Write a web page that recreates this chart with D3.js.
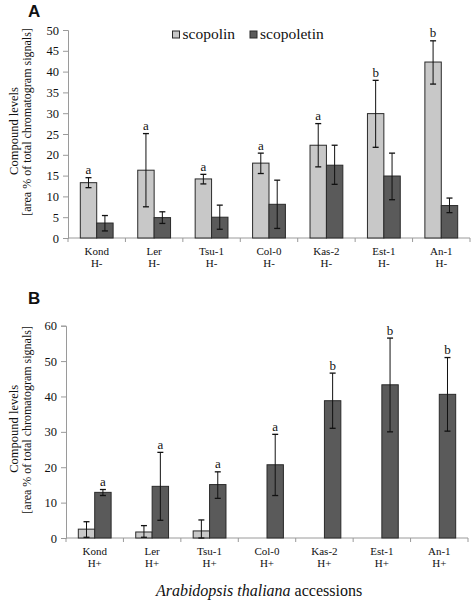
<!DOCTYPE html>
<html><head><meta charset="utf-8">
<script src="https://cdn.jsdelivr.net/npm/d3@7"></script>
<style>
html,body{margin:0;padding:0;background:#fff;}
svg{display:block;}
svg text{font-family:"Liberation Serif","Times New Roman",serif !important;fill:#111 !important;}
svg text.sans{font-family:"Liberation Sans",Arial,sans-serif !important;}
</style></head>
<body>
<svg id="chart" width="472" height="602"></svg>
<script>
// ---------- data ----------
const categories = ["Kond","Ler","Tsu-1","Col-0","Kas-2","Est-1","An-1"];
const seriesNames = ["scopolin","scopoletin"];
const conditionA = "H-";
const conditionB = "H+";
const yTicksA = [0,5,10,15,20,25,30,35,40,45,50];
const yTicksB = [0,10,20,30,40,50,60];

const scopolinA    = [13.3,16.3,14.2,18.0,22.3,29.9,42.3];
const scopolinA_lo = [12.1, 7.5,13.0,15.5,17.1,21.8,37.0];
const scopolinA_hi = [14.5,25.1,15.3,20.4,27.5,37.9,47.4];
const scopoletinA    = [3.6,4.9,5.0, 8.1,17.5,14.9,7.8];
const scopoletinA_lo = [1.7,3.5,2.1, 2.3,12.9, 9.2,6.1];
const scopoletinA_hi = [5.4,6.3,7.9,13.9,22.3,20.4,9.6];
const lettersA = ["a","a","a","a","a","b","b"];

const scopolinB    = [2.5,1.7,2.0,null,null,null,null];
const scopolinB_lo = [0.2,0.2,0.0,null,null,null,null];
const scopolinB_hi = [4.6,3.5,5.1,null,null,null,null];
const scopoletinB    = [12.9,14.6,15.1,20.7,38.8,43.3,40.6];
const scopoletinB_lo = [12.0, 5.0,11.2,12.0,31.0,30.0,30.2];
const scopoletinB_hi = [13.7,24.2,18.7,29.3,46.6,56.5,51.0];
const lettersB = ["a","a","a","a","b","b","b"];

const colors = {scopolin:"#c8c8c8", scopoletin:"#5a5a5a"};

// ---------- drawing ----------
const svg = d3.select("#chart");

function panel(opts){
  const {left,right,top,bottom,ymax,ticks,cond,s1,s1lo,s1hi,s2,s2lo,s2hi,letters,letterOn,label,labelY} = opts;
  const g = svg.append("g");
  const x0 = d3.scaleBand().domain(categories).range([left,right]).padding(0);
  const x1 = d3.scaleBand().domain(seriesNames).range([0,x0.bandwidth()]).paddingInner(0).paddingOuter(0.75);
  const y = d3.scaleLinear().domain([0,ymax]).range([bottom,top]);

  // y axis
  const ya = g.append("g").attr("transform",`translate(${left},0)`)
    .call(d3.axisLeft(y).tickValues(ticks).tickSize(5).tickPadding(4).tickFormat(d3.format("d")));
  ya.attr("font-family",null);
  ya.select(".domain").attr("stroke","#9a9a9a");
  ya.selectAll(".tick line").attr("stroke","#9a9a9a");
  ya.selectAll(".tick text").attr("font-size",12.5);

  // x axis line with boundary ticks
  g.append("line").attr("x1",left).attr("x2",right).attr("y1",bottom).attr("y2",bottom).attr("stroke","#9a9a9a");
  const bounds = categories.map(c=>x0(c)).concat([right]);
  g.selectAll(".bt").data(bounds).join("line").attr("x1",d=>d).attr("x2",d=>d)
    .attr("y1",bottom).attr("y2",bottom+4).attr("stroke","#9a9a9a");

  // category labels
  g.selectAll(".cl").data(categories).join("text")
    .attr("text-anchor","middle").attr("font-size",11)
    .attr("x",d=>x0(d)+x0.bandwidth()/2).attr("y",bottom+16.5).text(d=>d);
  g.selectAll(".cl2").data(categories).join("text")
    .attr("text-anchor","middle").attr("font-size",11)
    .attr("x",d=>x0(d)+x0.bandwidth()/2).attr("y",bottom+28.5).text(cond);

  const series = [
    {name:"scopolin", v:s1, lo:s1lo, hi:s1hi},
    {name:"scopoletin", v:s2, lo:s2lo, hi:s2hi}
  ];
  series.forEach(s=>{
    const rows = categories.map((c,i)=>({c, v:s.v[i], lo:s.lo[i], hi:s.hi[i], i})).filter(d=>d.v!=null);
    g.selectAll(null).data(rows).join("rect")
      .attr("x",d=>x0(d.c)+x1(s.name)).attr("width",x1.bandwidth())
      .attr("y",d=>y(d.v)).attr("height",d=>y(0)-y(d.v))
      .attr("fill",colors[s.name]).attr("stroke","#2a2a2a").attr("stroke-width",1);
    const cx = d=>x0(d.c)+x1(s.name)+x1.bandwidth()/2;
    g.selectAll(null).data(rows).join("line")
      .attr("x1",cx).attr("x2",cx).attr("y1",d=>y(d.lo)).attr("y2",d=>y(d.hi))
      .attr("stroke","#111").attr("stroke-width",1);
    ["lo","hi"].forEach(k=>{
      g.selectAll(null).data(rows).join("line")
        .attr("x1",d=>cx(d)-3).attr("x2",d=>cx(d)+3).attr("y1",d=>y(d[k])).attr("y2",d=>y(d[k]))
        .attr("stroke","#111").attr("stroke-width",1.3);
    });
    if (s.name===letterOn){
      g.selectAll(null).data(rows).join("text")
        .attr("text-anchor","middle").attr("font-size",13)
        .attr("x",cx).attr("y",d=>y(d.hi)-3.5).text(d=>letters[d.i]);
    }
  });

  // y title
  const midY = (top+bottom)/2;
  g.append("text").attr("transform",`translate(18,${midY-3}) rotate(-90)`)
    .attr("text-anchor","middle").attr("font-size",12.5).text("Compound levels");
  g.append("text").attr("transform",`translate(31,${midY-12}) rotate(-90)`)
    .attr("text-anchor","middle").attr("font-size",12).text("[area % of total chromatogram signals]");

  // panel label
  g.append("text").attr("class","sans").attr("x",28).attr("y",labelY)
    .attr("font-weight","bold").attr("font-size",17).text(label);
  return {x0,x1,y};
}

panel({left:68,right:470,top:30,bottom:238,ymax:50,ticks:yTicksA,cond:conditionA,
  s1:scopolinA,s1lo:scopolinA_lo,s1hi:scopolinA_hi,s2:scopoletinA,s2lo:scopoletinA_lo,s2hi:scopoletinA_hi,
  letters:lettersA,letterOn:"scopolin",label:"A",labelY:17});

panel({left:66,right:468,top:325.7,bottom:538,ymax:60,ticks:yTicksB,cond:conditionB,
  s1:scopolinB,s1lo:scopolinB_lo,s1hi:scopolinB_hi,s2:scopoletinB,s2lo:scopoletinB_lo,s2hi:scopoletinB_hi,
  letters:lettersB,letterOn:"scopoletin",label:"B",labelY:304});

// legend
const leg = svg.append("g");
const legX = [172.5, 250];
seriesNames.forEach((n,i)=>{
  leg.append("rect").attr("x",legX[i]).attr("y",31).attr("width",7).attr("height",7)
    .attr("fill",colors[n]).attr("stroke","#2a2a2a").attr("stroke-width",1);
  leg.append("text").attr("x",legX[i]+10).attr("y",39).attr("font-size",15.5).text(n);
});

// x title
const xt = svg.append("text").attr("x",259).attr("y",596).attr("text-anchor","middle").attr("font-size",16);
xt.append("tspan").attr("font-style","italic").text("Arabidopsis thaliana");
xt.append("tspan").text(" accessions");
</script>
</body></html>
